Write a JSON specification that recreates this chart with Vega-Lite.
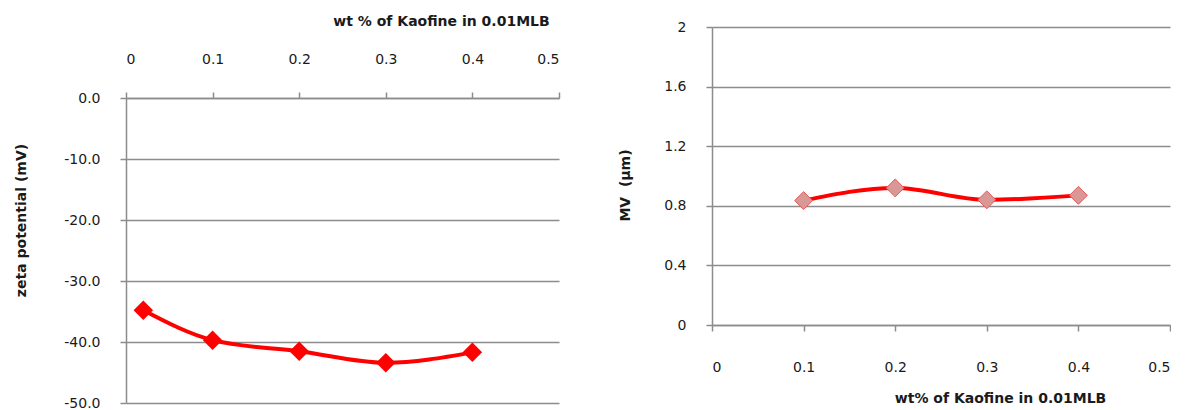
{
  "$schema": "https://vega.github.io/schema/vega-lite/v6.json",
  "background": "white",
  "padding": {"left": 14, "top": 14, "right": 0, "bottom": 0},
  "spacing": 153,
  "bounds": "flush",
  "config": {
    "view": {"stroke": null},
    "font": "DejaVu Sans",
    "axis": {
      "labelFont": "DejaVu Sans", "labelFontSize": 14, "labelColor": "#1a1a1a",
      "titleFont": "DejaVu Sans", "titleFontSize": 14, "titleFontWeight": "bold", "titleColor": "#1a1a1a",
      "domainColor": "#8c8c8c", "domainWidth": 1.5,
      "tickColor": "#8c8c8c", "tickWidth": 1.5, "tickSize": 6,
      "gridColor": "#8c8c8c", "gridWidth": 1.5
    }
  },
  "hconcat": [
    {
      "width": 433,
      "height": 376,
      "data": {"values": [
        {"wt": 0.02, "zeta": -34.8},
        {"wt": 0.1, "zeta": -39.7},
        {"wt": 0.2, "zeta": -41.5},
        {"wt": 0.3, "zeta": -43.4},
        {"wt": 0.4, "zeta": -41.7}
      ]},
      "encoding": {
        "x": {"field": "wt", "type": "quantitative",
          "scale": {"domain": [0, 0.5], "nice": false, "zero": false},
          "axis": {"orient": "top", "offset": -71, "values": [0, 0.1, 0.2, 0.3, 0.4, 0.5], "format": "~g",
            "grid": false, "title": "wt % of Kaofine in 0.01MLB", "labelPadding": 26, "titlePadding": 24, "titleX": 315}},
        "y": {"field": "zeta", "type": "quantitative",
          "scale": {"domain": [-50, 0], "range": [376, 71], "nice": false, "zero": false},
          "axis": {"values": [0, -10, -20, -30, -40, -50], "labelExpr": "replace(format(datum.value, '.1f'), '−', '-')",
            "grid": true, "title": "zeta potential (mV)", "labelPadding": 20, "titlePadding": 35, "titleY": 193}}
      },
      "layer": [
        {"mark": {"type": "line", "color": "#ff0000", "strokeWidth": 4, "interpolate": "monotone"}},
        {"mark": {"type": "point", "shape": "diamond", "filled": true, "color": "#ff0000", "size": 380, "opacity": 1}}
      ]
    },
    {
      "width": 458,
      "height": 298,
      "data": {"values": [
        {"wt": 0.1, "mv": 0.835},
        {"wt": 0.2, "mv": 0.92},
        {"wt": 0.3, "mv": 0.84},
        {"wt": 0.4, "mv": 0.87}
      ]},
      "encoding": {
        "x": {"field": "wt", "type": "quantitative",
          "scale": {"domain": [0, 0.5], "nice": false, "zero": false},
          "axis": {"orient": "bottom", "values": [0, 0.1, 0.2, 0.3, 0.4, 0.5], "format": "~g",
            "grid": false, "title": "wt% of Kaofine in 0.01MLB", "labelPadding": 29, "titlePadding": 17, "titleX": 288}},
        "y": {"field": "mv", "type": "quantitative",
          "scale": {"domain": [0, 2], "nice": false},
          "axis": {"values": [0, 0.4, 0.8, 1.2, 1.6, 2], "format": "~g",
            "grid": true, "title": "MV\u00a0 (µm)", "labelPadding": 20, "titlePadding": 31, "titleY": 158}}
      },
      "layer": [
        {"mark": {"type": "line", "color": "#ff0000", "strokeWidth": 4, "interpolate": "monotone"}},
        {"mark": {"type": "point", "shape": "diamond", "filled": true, "fill": "#d99795", "stroke": "#e25b5b", "strokeWidth": 1, "size": 320, "opacity": 1}}
      ]
    }
  ]
}
